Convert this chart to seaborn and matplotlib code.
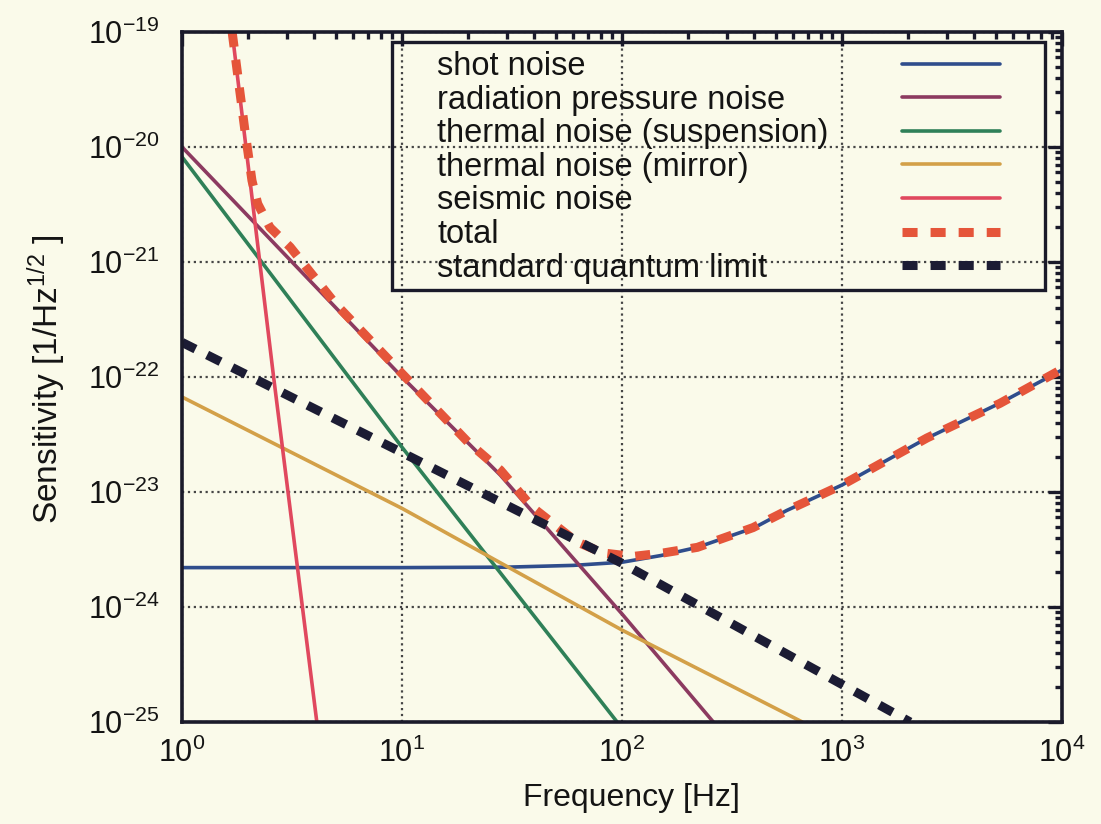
import matplotlib
matplotlib.use("Agg")
import matplotlib.pyplot as plt
import matplotlib.patches as mpatches
import matplotlib.ticker as mticker
import pandas as pd
import seaborn as sns

# values (frequency [Hz], sensitivity [1/Hz^1/2])
shot_f = [1, 10, 30, 60, 100, 150, 220, 400, 560, 1000, 2400, 5200, 10000]
shot_v = [2.2e-24, 2.2e-24, 2.22e-24, 2.3e-24, 2.45e-24, 2.8e-24, 3.3e-24,
          4.9e-24, 6.9e-24, 1.15e-23, 2.9e-23, 5.9e-23, 1.15e-22]

rad_f = [1, 10, 28, 100, 260]
rad_v = [1e-20, 1e-22, 1.4e-23, 8.7e-25, 1e-25]

susp_f = [1, 10, 95]
susp_v = [8.2e-21, 2.45e-23, 1e-25]

mirror_f = [1, 10, 100, 660]
mirror_v = [6.7e-23, 7.2e-24, 6.3e-25, 1e-25]

seis_f = [1.69, 2.6, 4.1]
seis_v = [1e-19, 1.05e-22, 1e-25]

total_f = [1.69, 1.93, 2.08, 2.21, 2.51, 3.1, 5, 10, 20, 28, 39, 62, 82,
           112, 154, 220, 394, 562, 1000, 2434, 5224, 10000]
total_v = [1e-19, 1.41e-20, 5.1e-21, 3.2e-21, 2.0e-21, 1.35e-21, 4.3e-22,
           1.07e-22, 2.7e-23, 1.55e-23, 7.4e-24, 3.7e-24, 2.95e-24, 2.75e-24,
           2.95e-24, 3.3e-24, 4.9e-24, 6.9e-24, 1.15e-23, 2.95e-23, 5.9e-23,
           1.17e-22]

sql_f = [1, 10, 100, 2040]
sql_v = [2e-22, 2.2e-23, 2.4e-24, 1e-25]

labels = ["shot noise", "radiation pressure noise", "thermal noise (suspension)",
          "thermal noise (mirror)", "seismic noise", "total", "standard quantum limit"]

x_ticks = [1, 10, 100, 1000, 10000]
y_ticks = [1e-25, 1e-24, 1e-23, 1e-22, 1e-21, 1e-20, 1e-19]

sns.set_style("white")
plt.rcParams["font.family"] = ["Liberation Sans", "DejaVu Sans"]
plt.rcParams["mathtext.fontset"] = "custom"
plt.rcParams["mathtext.rm"] = "Liberation Sans"
plt.rcParams["mathtext.it"] = "Liberation Sans:italic"
plt.rcParams["text.color"] = "#141414"
plt.rcParams["axes.labelcolor"] = "#141414"
plt.rcParams["xtick.labelcolor"] = "#141414"
plt.rcParams["ytick.labelcolor"] = "#141414"

bg = "#fafaea"
ink = "#1a1a2a"
fig = plt.figure(figsize=(11.01, 8.24), dpi=100, facecolor=bg)
ax = fig.add_axes([0.1653, 0.1238, 0.7993, 0.8374], facecolor=bg)

series = [
    (shot_f, shot_v, "#2f4d8c", "-"),
    (rad_f, rad_v, "#8c3a60", "-"),
    (susp_f, susp_v, "#2f8058", "-"),
    (mirror_f, mirror_v, "#d3a048", "-"),
    (seis_f, seis_v, "#e0485e", "-"),
    (total_f, total_v, "#e5553a", (0, (1.67, 1.44))),
    (sql_f, sql_v, "#1c1c34", (0, (1.67, 1.44))),
]

for (f, v, col, ls), lab in zip(series, labels):
    df = pd.DataFrame({"f": f, "v": v})
    lw = 2.6 if ls == "-" else 6.5
    sns.lineplot(data=df, x="f", y="v", ax=ax, color=col, lw=lw, ls=ls,
                 label=lab, legend=False, dash_capstyle="butt")

ax.set_xscale("log")
ax.set_yscale("log")
ax.set_xticks(x_ticks)
ax.set_yticks(y_ticks)
ax.set_xlim(1, 1e4)
ax.set_ylim(1e-25, 1e-19)
ax.xaxis.set_minor_locator(mticker.LogLocator(base=10, subs=range(2, 10), numticks=20))
ax.yaxis.set_minor_locator(mticker.LogLocator(base=10, subs=range(2, 10), numticks=20))
ax.xaxis.set_minor_formatter(mticker.NullFormatter())
ax.yaxis.set_minor_formatter(mticker.NullFormatter())

ax.grid(which="major", ls=":", color="#454545", lw=1.6)
ax.tick_params(which="both", direction="in", top=True, right=True,
               width=2.4, color=ink, labelsize=22)
ax.tick_params(which="major", length=10)
ax.tick_params(which="minor", length=5)
ax.tick_params(axis="x", which="major", pad=11)
ax.tick_params(axis="y", which="major", pad=16)
for sp in ax.spines.values():
    sp.set_linewidth(2.6)
    sp.set_color(ink)

ax.set_xlabel("Frequency [Hz]", fontsize=23)
ax.set_ylabel("Sensitivity [1/Hz$^{1/2}$ ]", fontsize=24)
ax.xaxis.set_label_coords(0.511, -0.088)
ax.yaxis.set_label_coords(-0.13, 0.497)

leg = ax.legend(loc="upper left", bbox_to_anchor=(0.2898, 0.9725), frameon=False,
                markerfirst=False, fontsize=23.5, handlelength=3.0,
                handletextpad=0.5, labelspacing=0.08, borderpad=0, borderaxespad=0)
# left-align the text, push the line samples to the right edge
try:
    col_box = leg._legend_handle_box.get_children()[0]
    col_box.width = 563
    for item in col_box.get_children():
        item.mode = "expand"
except Exception:
    pass

ax.add_patch(mpatches.Rectangle((0.2386, 0.626), 0.7421, 0.3595, transform=ax.transAxes,
                                fill=False, lw=2.4, ec=ink, zorder=5, clip_on=False))

fig.savefig("out.png", dpi=100, facecolor=bg)
